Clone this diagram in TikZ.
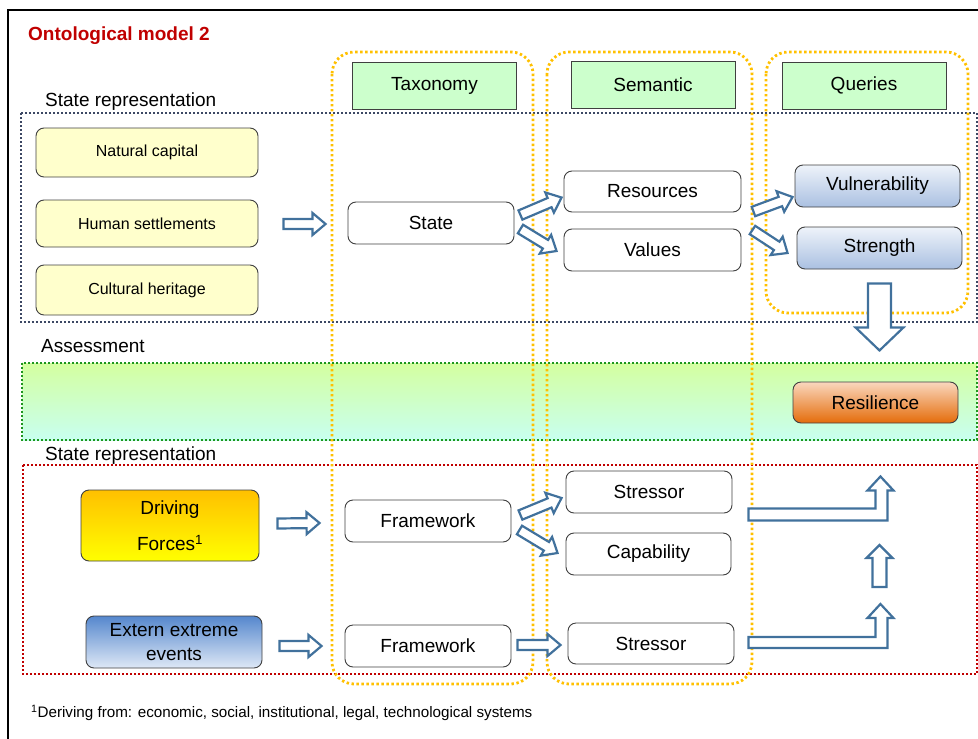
\documentclass[tikz,border=0pt]{standalone}
\usepackage{fontspec}
\setmainfont{Liberation Sans}
\usetikzlibrary{calc}

\definecolor{titlered}{RGB}{192,0,0}
\definecolor{arrowblue}{RGB}{65,113,156}
\definecolor{dotblue}{RGB}{60,72,100}
\definecolor{dotgreen}{RGB}{30,150,30}
\definecolor{dotred}{RGB}{192,0,0}
\definecolor{dotorange}{RGB}{255,192,0}
\definecolor{boxgray}{RGB}{64,64,64}
\definecolor{headgreen}{RGB}{204,255,204}
\definecolor{paleyellow}{RGB}{255,255,204}
\definecolor{vultop}{RGB}{238,243,250}
\definecolor{vulbot}{RGB}{170,192,225}
\definecolor{resiltop}{RGB}{250,215,190}
\definecolor{resilbot}{RGB}{228,108,10}
\definecolor{drivetop}{RGB}{255,192,0}
\definecolor{drivebot}{RGB}{255,255,0}
\definecolor{exttop}{RGB}{85,135,205}
\definecolor{extbot}{RGB}{222,232,246}
\definecolor{bandtop}{RGB}{212,255,160}
\definecolor{bandbot}{RGB}{200,255,240}

\tikzset{
	arrow shaft/.store in=\shaftw, arrow head/.store in=\headw, arrow len/.store in=\headl,
	arrow shaft=5pt, arrow head=11pt, arrow len=13pt,
	hollow/.style={draw=arrowblue, line width=2.2pt, fill=white, line join=miter},
	arealine/.style={line width=2pt, dash pattern=on 2pt off 2pt},
	column/.style={draw=dotorange, line width=2.8pt, dash pattern=on 2.4pt off 2.6pt, rounded corners=22pt},
	plainbox/.style={draw=boxgray, line width=0.9pt, rounded corners=8pt, fill=white, minimum width=166pt, minimum height=42pt},
	headbox/.style={draw=boxgray, line width=0.9pt, fill=headgreen, minimum width=164pt, minimum height=47pt},
	sidebox/.style={plainbox, fill=paleyellow, minimum width=222pt, font=\fontsize{16}{19}\selectfont},
	label/.style={anchor=west, inner sep=0pt}
}

% block arrow from #2 to #3
\newcommand{\hollowarrow}[3][]{%
	\begin{scope}[#1]
		\coordinate (ha-t) at #2;
		\coordinate (ha-h) at #3;
		\coordinate (ha-b) at ($(ha-h)!\headl!(ha-t)$);
		\draw[hollow] ($(ha-t)!\shaftw!90:(ha-h)$) -- ($(ha-b)!\shaftw!-90:(ha-t)$) -- ($(ha-b)!\headw!-90:(ha-t)$) -- (ha-h) -- ($(ha-b)!\headw!90:(ha-t)$) -- ($(ha-b)!\shaftw!90:(ha-t)$) -- ($(ha-t)!\shaftw!-90:(ha-h)$) -- cycle;
	\end{scope}
}

\begin{document}
\begin{tikzpicture}[x=1pt, y=-1pt, font=\fontsize{19}{22}\selectfont]
		\useasboundingbox (0,0) rectangle (978,739);
		\draw[line width=2pt] (8,745) -- (8,10) -- (985,10);
		\node[label, font=\bfseries\fontsize{19}{22}\selectfont, text=titlered] (title) at (28,36) {Ontological model 2};

		% areas
		\fill[top color=bandtop, bottom color=bandbot] (22,363) rectangle (977,440);
		\draw[arealine, dotblue] (21,113) rectangle (977,322);
		\draw[arealine, dotgreen] (22,363) rectangle (977,440);
		\draw[arealine, dotred] (23,465) rectangle (977,674);
		\node[label] (lbl1) at (45,102) {State representation};
		\node[label] (lbl2) at (41,346) {Assessment};
		\node[label] (lbl3) at (45,456) {State representation};

		\draw[column] (332,52) rectangle (533,684);
		\draw[column] (547,52) rectangle (752,684);
		\draw[column] (766,52) rectangle (968,313);
		\node[headbox] (tax) at (434.5,85.5) {Taxonomy};
		\node[headbox] (sem) at (653,85) {Semantic};
		\node[headbox] (qry) at (864,85.5) {Queries};

		\node[sidebox, minimum height=49pt] (nat) at (147,152.5) {Natural capital};
		\node[sidebox, minimum height=47pt] (hum) at (147,223.5) {Human settlements};
		\node[sidebox, minimum height=50pt] (cul) at (147,290) {Cultural heritage};

		\node[plainbox] (state) at (431,223) {State};
		\node[plainbox, minimum width=177pt, minimum height=41pt] (res) at (652.5,191.5) {Resources};
		\node[plainbox, minimum width=177pt] (val) at (652.5,250) {Values};
		\node[plainbox, minimum width=165pt, top color=vultop, bottom color=vulbot] (vul) at (877.5,186) {Vulnerability};
		\node[plainbox, minimum width=165pt, top color=vultop, bottom color=vulbot] (strg) at (879.5,248) {Strength};
		\node[plainbox, minimum width=165pt, minimum height=41pt, top color=resiltop, bottom color=resilbot] (resil) at (875.5,402.5) {Resilience};

		\node[plainbox, minimum width=178pt, minimum height=71pt, top color=drivetop, bottom color=drivebot, align=center] (drive) at (170,525.5) {Driving\\[14pt]Forces\textsuperscript{1}};
		\node[plainbox, minimum width=176pt, minimum height=52pt, top color=exttop, bottom color=extbot, align=center, font=\fontsize{19}{24}\selectfont] (ext) at (174,642) {Extern extreme\\events};
		\node[plainbox] (fw1) at (428,521) {Framework};
		\node[plainbox] (fw2) at (428,646) {Framework};
		\node[plainbox] (str1) at (649,492) {Stressor};
		\node[plainbox, minimum width=165pt] (cap) at (648.5,554) {Capability};
		\node[plainbox, minimum height=41pt] (str2) at (651,643.5) {Stressor};

		\node[label, font=\fontsize{15.2}{18}\selectfont] (note) at (31,713) {\textsuperscript{1}Deriving from: economic, social, institutional, legal, technological systems};

		% arrows
		\hollowarrow{($(hum.east)+(25,0.5)$)}{($(state.west)+(-22,1)$)}
		\hollowarrow{($(state.east)+(6,-8)$)}{($(res.west)+(-2,6)$)}
		\hollowarrow{($(state.east)+(6,6)$)}{($(val.west)+(-7,1)$)}
		\hollowarrow{($(res.east)+(12,20)$)}{($(vul.west)+(-2,11)$)}
		\hollowarrow{($(val.east)+(11,-20)$)}{($(strg.west)+(-9,5)$)}
		\hollowarrow[arrow shaft=11.5pt, arrow head=24pt, arrow len=23pt]{($(strg.south)+(0,14)$)}{($(strg.south)+(0,81)$)}
		\hollowarrow{($(drive.east)+(18,-2)$)}{($(fw1.west)+(-25,2)$)}
		\hollowarrow{($(ext.east)+(17,4)$)}{($(fw2.west)+(-23,0)$)}
		\hollowarrow{($(fw1.east)+(9,-6)$)}{($(str1.west)+(-4,6)$)}
		\hollowarrow{($(fw1.east)+(8,9)$)}{($(cap.west)+(-8,-1)$)}
		\hollowarrow{($(fw2.east)+(6,-1)$)}{($(str2.west)+(-7,1.5)$)}
		\hollowarrow[arrow shaft=7pt, arrow head=13pt, arrow len=13pt]{($(cap.east)+(148,33)$)}{($(cap.east)+(148,-9)$)}
		\draw[hollow] ($(str1.south east)+(16,-5)$) -- ++(127,0) -- ++(0,-18) -- ++(-8,0) -- ++(13,-14) -- ++(13,14) -- ++(-6,0) -- ++(0,30) -- ++(-139,0) -- cycle;
		\draw[hollow] ($(str2.east)+(14,-6.5)$) -- ++(127,0) -- ++(0,-19) -- ++(-8,0) -- ++(13,-14) -- ++(13,14) -- ++(-6,0) -- ++(0,30) -- ++(-139,0) -- cycle;
	\end{tikzpicture}
\end{document}
